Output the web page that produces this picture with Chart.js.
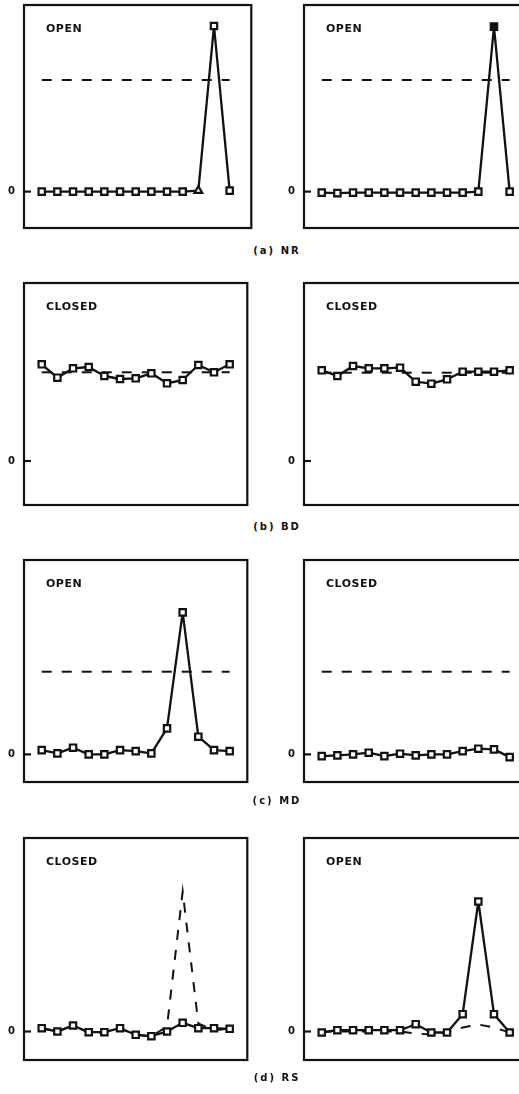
<!DOCTYPE html>
<html>
<head>
<meta charset="utf-8">
<script src="https://cdn.jsdelivr.net/npm/chart.js@4.4.1/dist/chart.umd.min.js"></script>
<style>
    html, body { margin: 0; padding: 0; background: #fff; width: 519px; height: 1094px; overflow: hidden; }
    canvas { position: absolute; }
    .row-label {
        position: absolute;
        font: bold 10px "DejaVu Sans";
        line-height: 12px;
        letter-spacing: 2px;
        color: #111;
        transform: translateX(-50%);
        white-space: nowrap;
    }
</style>
</head>
<body>
<script>
/* ============================== DATA ============================== */
const positions = [1, 2, 3, 4, 5, 6, 7, 8, 9, 10, 11, 12, 13];
const rowLabels = ['(a) NR', '(b) BD', '(c) MD', '(d) RS'];
const stateLeft = ['OPEN', 'CLOSED', 'OPEN', 'CLOSED'];
const stateRight = ['OPEN', 'CLOSED', 'CLOSED', 'OPEN'];

// response above baseline (solid trace, square markers)
const nrLeft  = [0, 0, 0, 0, 0, 0, 0, 0, 0, 0, 1, 165.6, 1];
const nrRight = [-1, -1.5, -1, -1, -1, -1, -1, -1, -1, -1, 0, 165, 0];
const bdLeft  = [96.7, 83.3, 92.7, 94, 85, 82, 82.7, 87.7, 77.7, 81, 96, 88.7, 96.7];
const bdRight = [90.7, 85, 95, 92.7, 92.7, 93.3, 79.3, 77.3, 81.7, 89.3, 89.3, 89.3, 90.7];
const mdLeft  = [4.3, 1, 6.7, 0, 0, 4.3, 3.3, 1, 26, 142, 17.7, 4.3, 3.3];
const mdRight = [-1.7, -1, 0, 1.7, -1.7, 0.7, -1, 0, 0, 3.3, 5.7, 5, -2.7];
const rsLeft  = [3.3, 0, 6, -0.7, -0.7, 3.3, -3.3, -4.7, 0, 8.7, 3.3, 3.3, 2.7];
const rsRight = [-1, 1.3, 1.3, 1.3, 1.3, 1.3, 7.3, -1, -1, 17.3, 130, 17.3, -1];

// dashed reference: flat levels for (a)-(c), curves for (d)
const nrLevel = [111.6, 111.6];
const bdLevel = [88.7, 88.3];
const mdLevel = [82.7, 82.7];
const rsRefLeft  = [3, 0, 6, -1, -1, 3, -3, -5, 5, 140, 8, 1, 3];
const rsRefRight = [0, 0, 0, 0, 0, 0, -2, -3, -1, 4, 7, 4, -1];

/* ============================== LAYOUT ============================== */
const boxTop    = [5, 283, 560, 838];
const boxBottom = [228, 505, 782, 1060];
const zeroY     = [191.6, 461, 754.4, 1031.5];
const boxWidth  = [227, 223, 223, 223];
const boxLeft   = [24, 304];
const labelY    = [251, 527, 801, 1078];
const axisW = 24;
const pad = 3;
const step = 15.64;     // px between samples in the reference

/* ============================== PLUGIN ============================== */
const framePlugin = {
    id: 'frame',
    beforeDatasetsDraw(chart, args, opts) {
        const { ctx, chartArea: a } = chart;
        ctx.save();
        ctx.strokeStyle = '#111';
        ctx.lineWidth = 2.2;
        ctx.strokeRect(a.left, a.top, a.right - a.left, a.bottom - a.top);

        // inward tick at zero
        const y0 = chart.scales.y.getPixelForValue(0);
        ctx.beginPath();
        ctx.moveTo(a.left, y0);
        ctx.lineTo(a.left + 7, y0);
        ctx.stroke();

        ctx.fillStyle = '#111';
        ctx.font = 'bold 11px "DejaVu Sans"';
        ctx.letterSpacing = '0.5px';
        ctx.textBaseline = 'middle';
        ctx.fillText(opts.title, a.left + 22, a.top + 24);
        ctx.restore();
    }
};

/* ============================== GRAPHS ============================== */
function buildChart(canvas, row, values, ref, title, marks) {
    const yMin = -(boxBottom[row] - zeroY[row]);
    const yMax = zeroY[row] - boxTop[row];
    const xMin = positions[0] - 17.7 / step;
    const xMax = xMin + boxWidth[row] / step;

    const solid = values.map((v, i) => ({ x: positions[i], y: v }));
    const dashed = Array.isArray(ref)
        ? ref.map((v, i) => ({ x: positions[i], y: v }))
        : [{ x: positions[0], y: ref }, { x: positions[positions.length - 1], y: ref }];

    return new Chart(canvas.getContext('2d'), {
        type: 'line',
        data: {
            datasets: [{
                data: solid,
                borderColor: '#111',
                borderWidth: 2.3,
                borderJoinStyle: 'round',
                tension: 0,
                pointStyle: c => (marks.tri === c.dataIndex ? 'triangle' : 'rect'),
                pointRadius: 4.5,
                pointBorderWidth: 2.2,
                pointBorderColor: '#111',
                pointBackgroundColor: c => (marks.fill === c.dataIndex ? '#111' : '#fff'),
                order: 0
            }, {
                data: dashed,
                borderColor: '#111',
                borderWidth: 2,
                borderDash: [10, 10],
                pointRadius: 0,
                tension: 0,
                order: 1
            }]
        },
        options: {
            responsive: false,
            animation: false,
            devicePixelRatio: 1,
            layout: { padding: { top: pad, bottom: pad, right: pad, left: 0 } },
            scales: {
                x: { type: 'linear', display: false, min: xMin, max: xMax },
                y: {
                    min: yMin,
                    max: yMax,
                    border: { display: false },
                    grid: { display: false, drawTicks: false },
                    afterBuildTicks: s => { s.ticks = [{ value: 0 }]; },
                    afterFit: s => { s.width = axisW; },
                    ticks: {
                        color: '#111',
                        padding: 9,
                        font: { family: 'DejaVu Sans', weight: 'bold', size: 10 },
                        callback: v => String(v)
                    }
                }
            },
            plugins: {
                legend: { display: false },
                tooltip: { enabled: false },
                frame: { title: title }
            }
        },
        plugins: [framePlugin]
    });
}

function makePanel(row, side, values, ref, title, marks) {
    const canvas = document.createElement('canvas');
    const boxH = boxBottom[row] - boxTop[row];
    let w = axisW + boxWidth[row] + pad;
    let h = boxH + 2 * pad;
    canvas.width = w;
    canvas.height = h;
    document.body.appendChild(canvas);

    // first pass: see where Chart.js puts the plot area, then size the canvas round it
    let chart = buildChart(canvas, row, values, ref, title, marks);
    const a = chart.chartArea;
    const offTop = a.top, offBottom = h - a.bottom;
    const offLeft = a.left, offRight = w - a.right;
    chart.destroy();

    w = Math.round(offLeft + boxWidth[row] + offRight);
    h = Math.round(offTop + boxH + offBottom);
    canvas.width = w;
    canvas.height = h;
    canvas.style.left = Math.round(boxLeft[side] - offLeft) + 'px';
    canvas.style.top = Math.round(boxTop[row] - offTop) + 'px';
    buildChart(canvas, row, values, ref, title, marks);
}

makePanel(0, 0, nrLeft, nrLevel[0], stateLeft[0], { tri: 10 });
makePanel(0, 1, nrRight, nrLevel[1], stateRight[0], { fill: 11 });
makePanel(1, 0, bdLeft, bdLevel[0], stateLeft[1], {});
makePanel(1, 1, bdRight, bdLevel[1], stateRight[1], {});
makePanel(2, 0, mdLeft, mdLevel[0], stateLeft[2], {});
makePanel(2, 1, mdRight, mdLevel[1], stateRight[2], {});
makePanel(3, 0, rsLeft, rsRefLeft, stateLeft[3], {});
makePanel(3, 1, rsRight, rsRefRight, stateRight[3], {});

rowLabels.forEach((txt, i) => {
    const d = document.createElement('div');
    d.className = 'row-label';
    d.textContent = txt;
    d.style.left = '277px';
    d.style.top = (labelY[i] - 6) + 'px';
    document.body.appendChild(d);
});
</script>
</body>
</html>
